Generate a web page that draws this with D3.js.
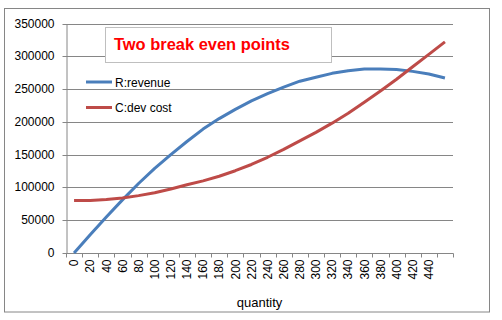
<!DOCTYPE html>
<html lang="en">
<head>
    <meta charset="UTF-8">
    <title>Two break even points</title>
    <script src="https://d3js.org/d3.v7.min.js"></script>
    <style>
        body { margin: 0; background: #fff; font-family: "Liberation Sans", Arial, sans-serif; }
        svg { display: block; }
        .grid line { stroke: #868686; stroke-width: 1; }
        .axis path, .axis line { stroke: #868686; }
        .axis text { fill: #000; font-size: 12px; font-family: "Liberation Sans", Arial, sans-serif; }
    </style>
</head>
<body>
    <svg id="chart"></svg>
    <script>
        // quantity categories (last one has no label in the original)
        const quantities = ["0","20","40","60","80","100","120","140","160","180","200","220",
                            "240","260","280","300","320","340","360","380","400","420","440",""];
        const revenue = [0, 28000, 55000, 81000, 106000, 129000, 150000, 170000, 189000, 205000,
                         219000, 232000, 243000, 253000, 262000, 268000, 274000, 278000, 280500,
                         280500, 280000, 277000, 273000, 267000];
        const devCost = [80000, 80000, 81500, 84000, 87500, 92000, 97500, 104000, 110000, 117000,
                         125500, 135000, 146000, 158000, 171000, 184000, 198000, 213000, 230000,
                         247000, 265000, 284000, 303000, 322000];
        const yTicks = [0, 50000, 100000, 150000, 200000, 250000, 300000, 350000];
        const series = [
            { name: "R:revenue", values: revenue, color: "#4A7EBB" },
            { name: "C:dev cost", values: devCost, color: "#BE4B48" }
        ];

        const width = 502, height = 320;
        const plot = { left: 66, right: 453, top: 23.5, bottom: 253 };

        const svg = d3.select("#chart").attr("width", width).attr("height", height);

        // outer chart border
        svg.append("rect")
            .attr("x", 4.5).attr("y", 8.5)
            .attr("width", 485).attr("height", 303.5)
            .attr("fill", "#fff").attr("stroke", "#868686");

        const x = d3.scaleBand()
            .domain(d3.range(quantities.length))
            .range([plot.left, plot.right])
            .padding(0);
        const y = d3.scaleLinear()
            .domain([0, 350000])
            .range([plot.bottom, plot.top]);

        // gridlines
        svg.append("g").attr("class", "grid")
            .selectAll("line")
            .data(yTicks.slice(1))
            .join("line")
            .attr("x1", plot.left).attr("x2", plot.right)
            .attr("y1", d => Math.round(y(d)) + 0.5)
            .attr("y2", d => Math.round(y(d)) + 0.5);

        // y axis
        const yAxis = svg.append("g").attr("class", "axis")
            .attr("transform", `translate(${plot.left + 0.5},0)`)
            .call(d3.axisLeft(y).tickValues(yTicks).tickSize(4).tickSizeOuter(0).tickPadding(8)
                .tickFormat(d3.format("d")));
        yAxis.selectAll(".tick").attr("transform", d => `translate(0,${Math.round(y(d)) + 0.5})`);

        // x axis: line, tick marks between categories, rotated labels
        const xAxis = svg.append("g").attr("class", "axis")
            .attr("transform", `translate(0,${Math.round(plot.bottom) + 0.5})`);
        xAxis.append("line")
            .attr("x1", plot.left).attr("x2", plot.right + 0.5);
        xAxis.selectAll(".tickmark")
            .data(d3.range(quantities.length + 1))
            .join("line")
            .attr("class", "tickmark")
            .attr("x1", i => Math.round(plot.left + i * x.bandwidth()) + 0.5)
            .attr("x2", i => Math.round(plot.left + i * x.bandwidth()) + 0.5)
            .attr("y1", 0).attr("y2", 4);
        xAxis.selectAll(".label")
            .data(quantities)
            .join("text")
            .attr("class", "label")
            .attr("transform", (d, i) => `translate(${x(i) + x.bandwidth() / 2},6) rotate(-90)`)
            .attr("text-anchor", "end")
            .attr("dy", "0.35em")
            .text(d => d);

        // axis title
        svg.append("text")
            .attr("x", (plot.left + plot.right) / 2)
            .attr("y", 307)
            .attr("text-anchor", "middle")
            .attr("font-size", 13)
            .text("quantity");

        // lines
        const line = d3.line()
            .x((d, i) => x(i) + x.bandwidth() / 2)
            .y(d => y(d));
        svg.append("g").selectAll("path")
            .data(series)
            .join("path")
            .attr("fill", "none")
            .attr("stroke", d => d.color)
            .attr("stroke-width", 3)
            .attr("stroke-linejoin", "round")
            .attr("d", d => line(d.values));

        // title box
        svg.append("rect")
            .attr("x", 105.5).attr("y", 27.5)
            .attr("width", 226).attr("height", 35)
            .attr("fill", "#fff").attr("stroke", "#BFBFBF");
        svg.append("text")
            .attr("x", 114).attr("y", 50)
            .attr("fill", "#FF0000")
            .attr("font-weight", "bold")
            .attr("font-size", 17)
            .attr("textLength", 176)
            .attr("lengthAdjust", "spacingAndGlyphs")
            .text("Two break even points");

        // legend
        const legend = svg.append("g").selectAll("g")
            .data(series)
            .join("g")
            .attr("transform", (d, i) => `translate(86,${82 + i * 25.5})`);
        legend.append("line")
            .attr("x1", 0).attr("x2", 26)
            .attr("stroke", d => d.color)
            .attr("stroke-width", 3);
        legend.append("text")
            .attr("x", 29).attr("y", 4.5)
            .attr("font-size", 12)
            .text(d => d.name);
    </script>
</body>
</html>
